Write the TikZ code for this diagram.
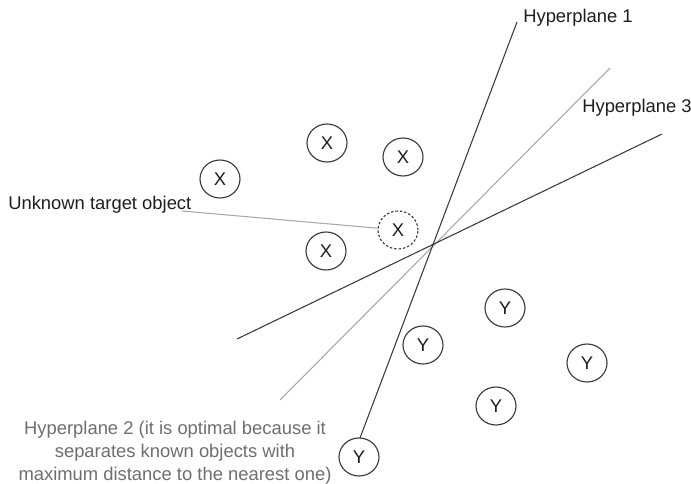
\documentclass[tikz,border=0pt]{standalone}
\usepackage{fontspec}
\setmainfont{Liberation Sans}
\usetikzlibrary{shapes.geometric}
\definecolor{ink}{HTML}{3A3A3A}
\definecolor{lightline}{HTML}{A8A8A8}
\definecolor{softtext}{HTML}{6E6E6E}
\definecolor{labeltext}{HTML}{1E1E1E}
\tikzset{
  txt/.style={font=\fontsize{13.8}{17.2}\selectfont},
  obj/.style={ellipse, draw=ink, line width=0.85pt, minimum width=30pt,
    minimum height=28.5pt, inner sep=0pt, txt, text=labeltext},
  unknownobj/.style={obj, dash pattern=on 1.8pt off 1.5pt},
  plane/.style={draw=ink, line width=0.8pt},
  bestplane/.style={draw=lightline, line width=0.8pt},
  leader/.style={draw=lightline, line width=0.8pt},
  lbl/.style={txt, inner sep=0pt, text=labeltext},
  note/.style={txt, inner sep=0pt, text=softtext, align=center},
}
\begin{document}
\begin{tikzpicture}[x=0.75pt, y=-0.75pt]
\useasboundingbox (0,0) rectangle (691,484);

% hyperplanes
\coordinate (h1top) at (517,22);
\coordinate (h1bot) at (360,438);
\coordinate (h2top) at (610,68);
\coordinate (h2bot) at (280,400);
\coordinate (h3top) at (662,134);
\coordinate (h3bot) at (237,339);
\draw[bestplane] (h2top) -- (h2bot);
\draw[plane] (h3top) -- (h3bot);
\draw[plane] (h1top) -- (h1bot);

% class X objects
\node[obj] (x1) at (220,179) {X};
\node[obj] (x2) at (327,143) {X};
\node[obj] (x3) at (403,157) {X};
\node[obj] (x4) at (326,251) {X};
\node[unknownobj] (xq) at (398,230) {X};

% class Y objects
\node[obj] (y1) at (505,308) {Y};
\node[obj] (y2) at (423,345) {Y};
\node[obj] (y3) at (587,363) {Y};
\node[obj] (y4) at (496,406) {Y};
\node[obj] (y5) at (359,457) {Y};

% labels
\node[lbl, anchor=base west] (l1) at (523,23) {Hyperplane 1};
\node[lbl, anchor=base west] (l3) at (582,113) {Hyperplane 3};
\node[lbl, anchor=base west] (lu) at (8,210) {Unknown target object};
\coordinate (lead) at (182,211);
\draw[leader] (lead) -- (xq);

\node[note, anchor=north] (l2) at (175,421)
  {Hyperplane 2 (it is optimal because it\\separates known objects with\\maximum distance to the nearest one)};
\end{tikzpicture}
\end{document}
